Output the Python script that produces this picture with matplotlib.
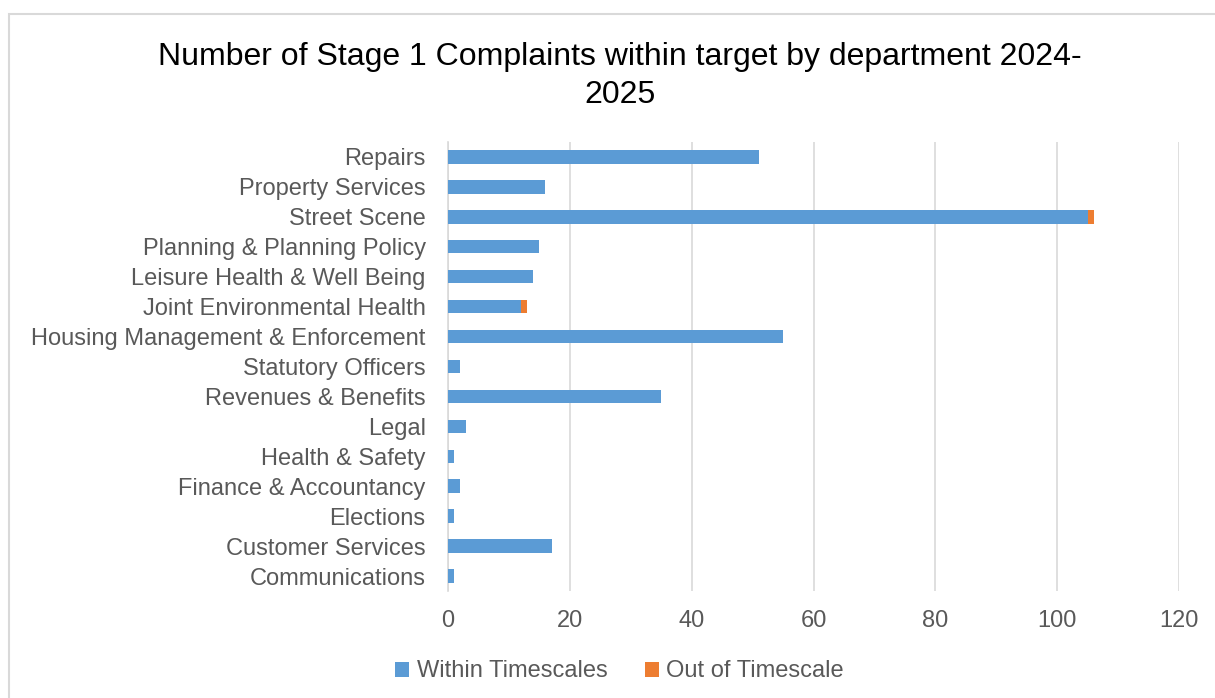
import numpy as np
import matplotlib.pyplot as plt
from matplotlib.patches import Rectangle

plt.rcParams['font.family'] = ['Liberation Sans', 'DejaVu Sans']

# departments listed bottom to top as drawn
departments = ['Communications', 'Customer Services', 'Elections', 'Finance & Accountancy',
               'Health & Safety', 'Legal', 'Revenues & Benefits', 'Statutory Officers',
               'Housing Management & Enforcement', 'Joint Environmental Health',
               'Leisure Health & Well Being', 'Planning & Planning Policy', 'Street Scene',
               'Property Services', 'Repairs']
within = [1, 17, 1, 2, 1, 3, 35, 2, 55, 12, 14, 15, 105, 16, 51]
out_of = [0, 0, 0, 0, 0, 0, 0, 0, 0, 1, 0, 0, 1, 0, 0]
xticks = [0, 20, 40, 60, 80, 100, 120]

blue = '#5B9BD5'
orange = '#ED7D31'
txt = '#595959'

fig = plt.figure(figsize=(12.15, 6.98), dpi=100)
ax = fig.add_axes([0.3687, 0.1533, 0.6017, 0.6433])

y = np.arange(len(departments))
ax.barh(y, within, height=0.45, color=blue, label='Within Timescales', zorder=3)
ax.barh(y, out_of, left=within, height=0.45, color=orange, label='Out of Timescale', zorder=3)

ax.set_xlim(0, 120)
ax.set_ylim(-0.5, len(departments) - 0.5)
ax.set_xticks(xticks)
ax.set_yticks(y)
ax.set_yticklabels(departments)
ax.tick_params(axis='both', length=0, labelsize=17, colors=txt)
ax.tick_params(axis='x', pad=14)
ax.tick_params(axis='y', pad=16)
ax.grid(axis='x', color='#D9D9D9', linewidth=1.2, zorder=0)
for s in ['top', 'right', 'bottom']:
    ax.spines[s].set_visible(False)
ax.spines['left'].set_color('#D9D9D9')
ax.spines['left'].set_linewidth(1.2)

fig.text(0.51, 0.891, 'Number of Stage 1 Complaints within target by department 2024-\n2025',
         ha='center', va='center', fontsize=23, color='black', linespacing=1.32)

fig.legend(loc='center', bbox_to_anchor=(0.51, 0.038), ncol=2, frameon=False,
           fontsize=17, labelcolor=txt, handlelength=0.6, handleheight=0.6,
           handletextpad=0.3, columnspacing=1.6)

fig.patches.append(Rectangle((9 / 1215, -0.05), 1.2, 1 - 14 / 698 + 0.05,
                             transform=fig.transFigure, fill=False,
                             edgecolor='#D9D9D9', linewidth=1.5))

fig.savefig('out.png', dpi=100)
